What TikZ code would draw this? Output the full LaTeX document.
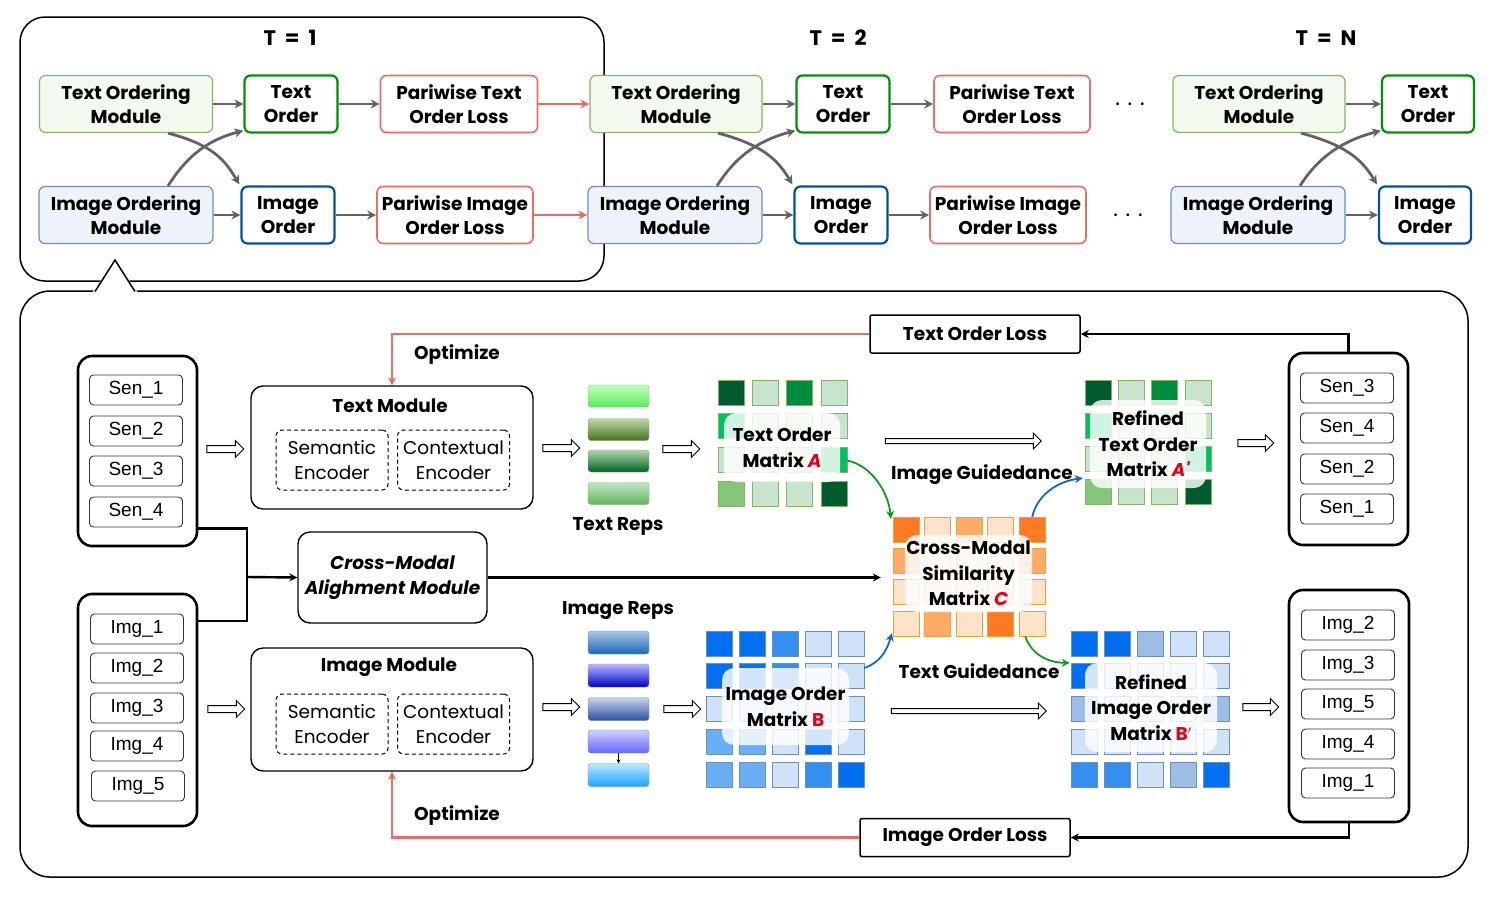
\documentclass[tikz,border=0pt]{standalone}
\usepackage{fontspec}
\setmainfont{Poppins}
\newfontfamily\arialf{Liberation Sans}
\usetikzlibrary{arrows.meta,shapes.arrows,calc}
\definecolor{tomfill}{HTML}{F3F9EE}
\definecolor{tomdraw}{HTML}{82B366}
\definecolor{iomfill}{HTML}{EEF3FA}
\definecolor{iomdraw}{HTML}{6C8EBF}
\definecolor{todraw}{HTML}{008F00}
\definecolor{iodraw}{HTML}{0050A8}
\definecolor{lossred}{HTML}{EA6B66}
\definecolor{arrgray}{HTML}{636363}
\definecolor{matred}{HTML}{E0001B}
\definecolor{garr}{HTML}{119922}
\definecolor{barr}{HTML}{1166CC}
\definecolor{gD}{HTML}{005C2E}
\definecolor{gM}{HTML}{008C3E}
\definecolor{gB}{HTML}{00C060}
\definecolor{gP}{HTML}{C8E4CC}
\definecolor{gL}{HTML}{86C67A}
\definecolor{oD}{HTML}{FF7A22}
\definecolor{oM}{HTML}{FFAA66}
\definecolor{oP}{HTML}{FFE3C8}
\definecolor{odraw}{HTML}{EBA23A}
\definecolor{bS}{HTML}{0070F0}
\definecolor{bM}{HTML}{3390F0}
\definecolor{bL}{HTML}{6AAEF4}
\definecolor{bP}{HTML}{D0E2F8}
\definecolor{bG}{HTML}{9DBDE6}
\newcommand{\mygrid}[7]{%
  \foreach \cc [count=\k from 0] in {#7} {%
    \pgfmathtruncatemacro{\rr}{floor(\k/#5)}%
    \pgfmathtruncatemacro{\ci}{\k-#5*\rr}%
    \filldraw[draw=#6, line width=0.8pt, fill=\cc] ({#1+\ci*#3},{#2+\rr*#4}) rectangle ++(26,25);
  }}
\tikzset{
  base/.style={font=\fontsize{18.5}{24}\selectfont\bfseries, align=center, inner sep=0pt},
  plain/.style={font=\fontsize{18.5}{25}\selectfont, align=center, inner sep=0pt},
  tombox/.style={base, draw=tomdraw, fill=tomfill, rounded corners=6pt, line width=1.2pt, minimum height=57pt},
  iombox/.style={base, draw=iomdraw, fill=iomfill, rounded corners=6pt, line width=1.2pt, minimum height=57pt},
  tobox/.style={base, draw=todraw, fill=white, rounded corners=6pt, line width=2.2pt, minimum height=57pt},
  iobox/.style={base, draw=iodraw, fill=white, rounded corners=6pt, line width=2.2pt, minimum height=57pt},
  lossbox/.style={base, draw=lossred, fill=white, rounded corners=6pt, line width=1.6pt, minimum height=57pt},
  grayarr/.style={draw=arrgray, line width=2.8pt, -{Stealth[length=9pt,width=9pt]}},
  redarr/.style={draw=lossred, line width=2.8pt, -{Stealth[length=9pt,width=9pt]}},
  blk/.style={draw=black, line width=2.4pt},
  blkarr/.style={blk, -{Stealth[length=8pt,width=8pt]}},
  redln/.style={draw=lossred, line width=2.4pt, -{Stealth[length=8pt,width=8pt]}},
  grnarr/.style={draw=garr, line width=1.8pt, -{Stealth[length=8pt,width=8pt]}},
  bluarr/.style={draw=barr, line width=1.8pt, -{Stealth[length=8pt,width=8pt]}},
  listbox/.style={draw=black, line width=2.6pt, rounded corners=14pt, fill=white},
  itembox/.style={draw=black!80, line width=0.9pt, rounded corners=4pt, minimum width=93pt, minimum height=30pt, inner sep=0pt, font=\arialf\fontsize{19}{20}\selectfont},
  hol/.style={shape=single arrow, draw=black, fill=white, line width=1pt, inner sep=3pt, single arrow head extend=5pt, minimum width=16pt},
  modbox/.style={draw=black, line width=1.4pt, rounded corners=12pt, fill=white},
  dbox/.style={plain, draw=black, dashed, dash pattern=on 4pt off 3pt, line width=1pt, rounded corners=6pt, minimum width=112pt, minimum height=60pt},
  losstxt/.style={base, draw=black, line width=1.5pt, rounded corners=2pt, fill=white, minimum width=210pt, minimum height=38pt},
  ovl/.style={base, fill=white, fill opacity=0.82, text opacity=1, rounded corners=12pt, font=\fontsize{18.5}{25.5}\selectfont\bfseries},
  gridn/.style={inner sep=0pt, draw=none},
  tlabel/.style={base, font=\fontsize{21}{24}\selectfont\bfseries}
}
\begin{document}
\begin{tikzpicture}[x=1pt,y=-1pt]
\useasboundingbox (0,0) rectangle (1495,900);
% frames
\draw[line width=1.5pt, rounded corners=30pt, fill=white] (20,291) rectangle (1468,877);
\draw[line width=1.5pt, rounded corners=25pt] (20,17) rectangle (604,281);
\fill[white] (92,293) -- (115,260) -- (138,293) -- cycle;
\draw[line width=1.5pt] (95,291.5) -- (115,260) -- (135,291.5);

% ---------- top row ----------
\node[tlabel] (t1) at (290,38) {T\hspace{9pt}=\hspace{9pt}1};
\node[tlabel] (t2) at (838,38) {T\hspace{9pt}=\hspace{9pt}2};
\node[tlabel] (tn) at (1326,38) {T\hspace{9pt}=\hspace{9pt}N};

\node[tombox, minimum width=173pt] (tom1) at (126,104) {Text Ordering\\Module};
\node[tobox, minimum width=93pt] (to1) at (291,104) {Text\\Order};
\node[lossbox, minimum width=157pt] (ptl1) at (459,104) {Pariwise Text\\Order Loss};
\node[iombox, minimum width=174pt] (iom1) at (126,215) {Image Ordering\\Module};
\node[iobox, minimum width=93pt] (io1) at (288,215) {Image\\Order};
\node[lossbox, minimum width=156pt] (pil1) at (455,215) {Pariwise Image\\Order Loss};

\node[tombox, minimum width=172pt] (tom2) at (676,104) {Text Ordering\\Module};
\node[tobox, minimum width=93pt] (to2) at (843,104) {Text\\Order};
\node[lossbox, minimum width=156pt] (ptl2) at (1012,104) {Pariwise Text\\Order Loss};
\node[iombox, minimum width=174pt] (iom2) at (675,215) {Image Ordering\\Module};
\node[iobox, minimum width=93pt] (io2) at (841,215) {Image\\Order};
\node[lossbox, minimum width=156pt] (pil2) at (1008,215) {Pariwise Image\\Order Loss};

\node[tombox, minimum width=172pt] (tomn) at (1259,104) {Text Ordering\\Module};
\node[tobox, minimum width=92pt] (ton) at (1428,104) {Text\\Order};
\node[iombox, minimum width=174pt] (iomn) at (1258,215) {Image Ordering\\Module};
\node[iobox, minimum width=92pt] (ion) at (1425,215) {Image\\Order};

\node[base, font=\fontsize{22}{22}\selectfont] (d1) at (1130,104) {. . .};
\node[base, font=\fontsize{22}{22}\selectfont] (d2) at (1128,215) {. . .};

\foreach \g in {1,2,n} {
  \draw[grayarr] (tom\g.east) -- (to\g.west);
  \draw[grayarr] (iom\g.east) -- (io\g.west);
  \draw[grayarr] ($(tom\g.south)+(42,0)$) .. controls +(45,12) and +(-15,-25) .. ($(io\g.north west)+(-1,-1)$);
  \draw[grayarr] ($(iom\g.north)+(42,0)$) .. controls +(22,-35) and +(-30,8) .. ($(to\g.south west)+(0,-3)$);
}
\foreach \g in {1,2} {
  \draw[grayarr] (to\g.east) -- (ptl\g.west);
  \draw[grayarr] (io\g.east) -- (pil\g.west);
}
\draw[redarr] (ptl1.east) -- (tom2.west);
\draw[redarr] (pil1.east) -- (iom2.west);

% ---------- bottom: input lists ----------
\node[listbox, minimum width=119pt, minimum height=190pt] (senL) at (137.5,451) {};
\node[itembox] (sl1) at (136,390) {Sen\_1};
\node[itembox] (sl2) at (136,431) {Sen\_2};
\node[itembox] (sl3) at (136,471) {Sen\_3};
\node[itembox] (sl4) at (136,512) {Sen\_4};

\node[listbox, minimum width=119pt, minimum height=232pt] (imgL) at (137.5,710) {};
\node[itembox] (il1) at (137,629) {Img\_1};
\node[itembox] (il2) at (137,668) {Img\_2};
\node[itembox] (il3) at (137,708) {Img\_3};
\node[itembox] (il4) at (137,746) {Img\_4};
\node[itembox] (il5) at (138,786) {Img\_5};

% output lists
\node[listbox, minimum width=119pt, minimum height=192pt] (senR) at (1348.5,449) {};
\node[itembox] (sr1) at (1347,388) {Sen\_3};
\node[itembox] (sr2) at (1347,428) {Sen\_4};
\node[itembox] (sr3) at (1347,469) {Sen\_2};
\node[itembox] (sr4) at (1347,509) {Sen\_1};

\node[listbox, minimum width=120pt, minimum height=232pt] (imgR) at (1349,706) {};
\node[itembox] (ir1) at (1348,625) {Img\_2};
\node[itembox] (ir2) at (1348,665) {Img\_3};
\node[itembox] (ir3) at (1348,704) {Img\_5};
\node[itembox] (ir4) at (1348,744) {Img\_4};
\node[itembox] (ir5) at (1348,783) {Img\_1};

% ---------- modules ----------
\node[modbox, minimum width=282pt, minimum height=123pt] (tm) at (392,447.5) {};
\node[base] (tmt) at (390,406) {Text Module};
\node[dbox] (tse) at (332,460) {Semantic\\Encoder};
\node[dbox] (tce) at (453.5,460) {Contextual\\Encoder};

\node[modbox, minimum width=282pt, minimum height=123pt] (im) at (392,709.5) {};
\node[base] (imt) at (389,667) {Image Module};
\node[dbox] (ise) at (332,724) {Semantic\\Encoder};
\node[dbox] (ice) at (453.5,724) {Contextual\\Encoder};

\node[modbox, minimum width=189pt, minimum height=91pt, base, font=\fontsize{18.5}{25}\selectfont\bfseries\itshape] (cm) at (392.5,577.5) {Cross-Modal\\Alighment Module};

% joins
\coordinate (j) at (247,577);
\draw[blk] ($(senL.south east)+(0,-19)$) -| (j);
\draw[blk] ($(imgL.north east)+(0,28)$) -| (j);
\draw[blkarr] (j) -- (cm.west);

% ---------- reps ----------
\node[draw=tomdraw, rounded corners=3pt, top color={rgb,255:red,190;green,255;blue,190}, bottom color={rgb,255:red,90;green,235;blue,90}, minimum width=61pt, minimum height=22pt, inner sep=0pt] (tr1) at (618.5,396) {};
\node[draw=tomdraw, rounded corners=3pt, top color={rgb,255:red,190;green,215;blue,170}, bottom color={rgb,255:red,70;green,115;blue,30}, minimum width=61pt, minimum height=22pt, inner sep=0pt] (tr2) at (618.5,429.5) {};
\node[draw=tomdraw, rounded corners=3pt, top color={rgb,255:red,175;green,214;blue,175}, bottom color={rgb,255:red,0;green,100;blue,30}, minimum width=61pt, minimum height=22pt, inner sep=0pt] (tr3) at (618.5,461) {};
\node[draw=tomdraw, rounded corners=3pt, top color={rgb,255:red,195;green,230;blue,195}, bottom color={rgb,255:red,95;green,180;blue,95}, minimum width=61pt, minimum height=22pt, inner sep=0pt] (tr4) at (618.5,493.5) {};
\node[base] (trl) at (618,526) {Text Reps};

\node[base] (irl) at (618,611) {Image Reps};
\node[draw=iomdraw, rounded corners=3pt, top color={rgb,255:red,170;green,200;blue,232}, bottom color={rgb,255:red,26;green,105;blue,180}, minimum width=61pt, minimum height=23pt, inner sep=0pt] (rb1) at (618.5,642.5) {};
\node[draw=iomdraw, rounded corners=3pt, top color={rgb,255:red,185;green,185;blue,255}, bottom color={rgb,255:red,0;green,0;blue,200}, minimum width=61pt, minimum height=23pt, inner sep=0pt] (rb2) at (618.5,675.5) {};
\node[draw=iomdraw, rounded corners=3pt, top color={rgb,255:red,200;green,212;blue,238}, bottom color={rgb,255:red,46;green,79;blue,160}, minimum width=61pt, minimum height=23pt, inner sep=0pt] (rb3) at (618.5,709) {};
\node[draw=iomdraw, rounded corners=3pt, top color={rgb,255:red,205;green,208;blue,255}, bottom color={rgb,255:red,102;green,102;blue,255}, minimum width=61pt, minimum height=23pt, inner sep=0pt] (rb4) at (618.5,741.5) {};
\node[draw=iomdraw, rounded corners=3pt, top color={rgb,255:red,185;green,232;blue,255}, bottom color={rgb,255:red,26;green,163;blue,255}, minimum width=61pt, minimum height=23pt, inner sep=0pt] (rb5) at (618.5,775) {};
\draw[line width=0.7pt, -{Stealth[length=4pt,width=4pt]}] (rb4.south) -- (rb5.north);

% ---------- matrices ----------
\mygrid{718}{380}{34.3}{33.7}{4}{tomdraw}{gD,gP,gM,gP, gB,gP,gP,gP, gP,gP,gP,gB, gL,gP,gP,gD}
\node[gridn, minimum width=129pt, minimum height=127pt] (gA) at (782.5,443.5) {};
\node[ovl, minimum width=116pt, minimum height=69pt] (oA) at (782,447.5) {Text Order\\Matrix \textcolor{matred}{\itshape A}};

\mygrid{1085}{380}{33.3}{33}{4}{tomdraw}{gD,gP,gM,gP, gB,gP,gP,gP, gP,gP,gP,gB, gL,gP,gP,gD}
\node[gridn, minimum width=126pt, minimum height=125pt] (gAp) at (1148,442.5) {};
\node[ovl, minimum width=116pt, minimum height=88pt] (oAp) at (1148,444) {Refined\\Text Order\\Matrix \textcolor{matred}{\itshape A\textquotesingle}};

\mygrid{893}{517}{31.5}{31.3}{5}{odraw}{oD,oP,oM,oP,oD, oM,oP,oP,oP,oM, oP,oP,oP,oP,oP, oP,oM,oP,oD,oP}
\node[gridn, minimum width=152pt, minimum height=119pt] (gC) at (969,576.5) {};
\node[ovl, minimum width=127pt, minimum height=77pt] (oC) at (968.5,573.5) {Cross-Modal\\Similarity\\Matrix \textcolor{matred}{\itshape C}};

\mygrid{706}{631}{33}{32.75}{5}{iomdraw}{bS,bS,bM,bP,bP, bS,bS,bM,bP,bP, bP,bP,bP,bP,bP, bL,bL,bP,bS,bP, bL,bL,bP,bM,bS}
\node[gridn, minimum width=158pt, minimum height=156pt] (gB) at (785,709) {};
\node[ovl, minimum width=127pt, minimum height=77pt] (oB) at (785.5,706.5) {Image Order\\Matrix \textcolor{matred}{B}};

\mygrid{1071}{631}{33}{32.75}{5}{iomdraw}{bS,bS,bG,bP,bP, bS,bP,bP,bP,bP, bG,bP,bP,bP,bG, bP,bP,bP,bP,bP, bM,bM,bP,bG,bS}
\node[gridn, minimum width=159pt, minimum height=156pt] (gBp) at (1150.5,709) {};
\node[ovl, minimum width=132pt, minimum height=89pt] (oBp) at (1151,707.5) {Refined\\Image Order\\Matrix \textcolor{matred}{B$^{\prime}$}};

% curved guidance arrows
\draw[grnarr] ($(gA.east)+(0,17)$) .. controls +(25,5) and +(-2,-25) .. ($(gC.north west)+(-2,2)$);
\draw[bluarr] ($(gC.north east)+(-13,0)$) .. controls +(5,-22) and +(-25,3) .. ($(gAp.south west)+(-2,-27)$);
\draw[bluarr] ($(gB.east)+(0,-41)$) .. controls +(15,-5) and +(-5,18) .. ($(gC.south west)+(-1,-3)$);
\draw[grnarr] ($(gC.south east)+(-20,0)$) .. controls +(6,18) and +(-22,0) .. ($(gBp.north west)+(-1,32)$);
\node[base] (igl) at (982,475) {Image Guidedance};
\node[base] (tgl) at (979,671) {Text Guidedance};

\draw[blkarr, shorten >=12pt] (cm.east) -- (gC.west |- cm.east);

% hollow arrows
\node[hol, minimum height=37pt] (h1) at (223.5,449) {};
\node[hol, minimum height=37pt] (h2) at (224.5,709) {};
\node[hol, minimum height=37pt] (h3) at (559.5,448) {};
\node[hol, minimum height=37pt] (h4) at (559.5,707) {};
\node[hol, minimum height=37pt] (h5) at (679.5,449) {};
\node[hol, minimum height=37pt] (h6) at (680.5,709) {};
\node[hol, minimum height=156pt, inner sep=2pt, single arrow head extend=5.5pt] (h7) at (962,441) {};
\node[hol, minimum height=155pt, inner sep=2pt, single arrow head extend=5.5pt] (h8) at (967.5,711) {};
\node[hol, minimum height=36pt] (h9) at (1254,443) {};
\node[hol, minimum height=36pt] (h10) at (1259,707) {};

% ---------- losses ----------
\node[losstxt] (tol) at (975,334) {Text Order Loss};
\node[losstxt] (iol) at (965,837.5) {Image Order Loss};
\draw[blkarr] (senR.north) |- (tol.east);
\draw[blkarr] (imgR.south) |- (iol.east);
\draw[redln] (tol.west) -| (tm.north);
\draw[redln] (iol.west) -| (im.south);
\node[base] (op1) at (457,355) {Optimize};
\node[base] (op2) at (457,816) {Optimize};
\end{tikzpicture}
\end{document}
